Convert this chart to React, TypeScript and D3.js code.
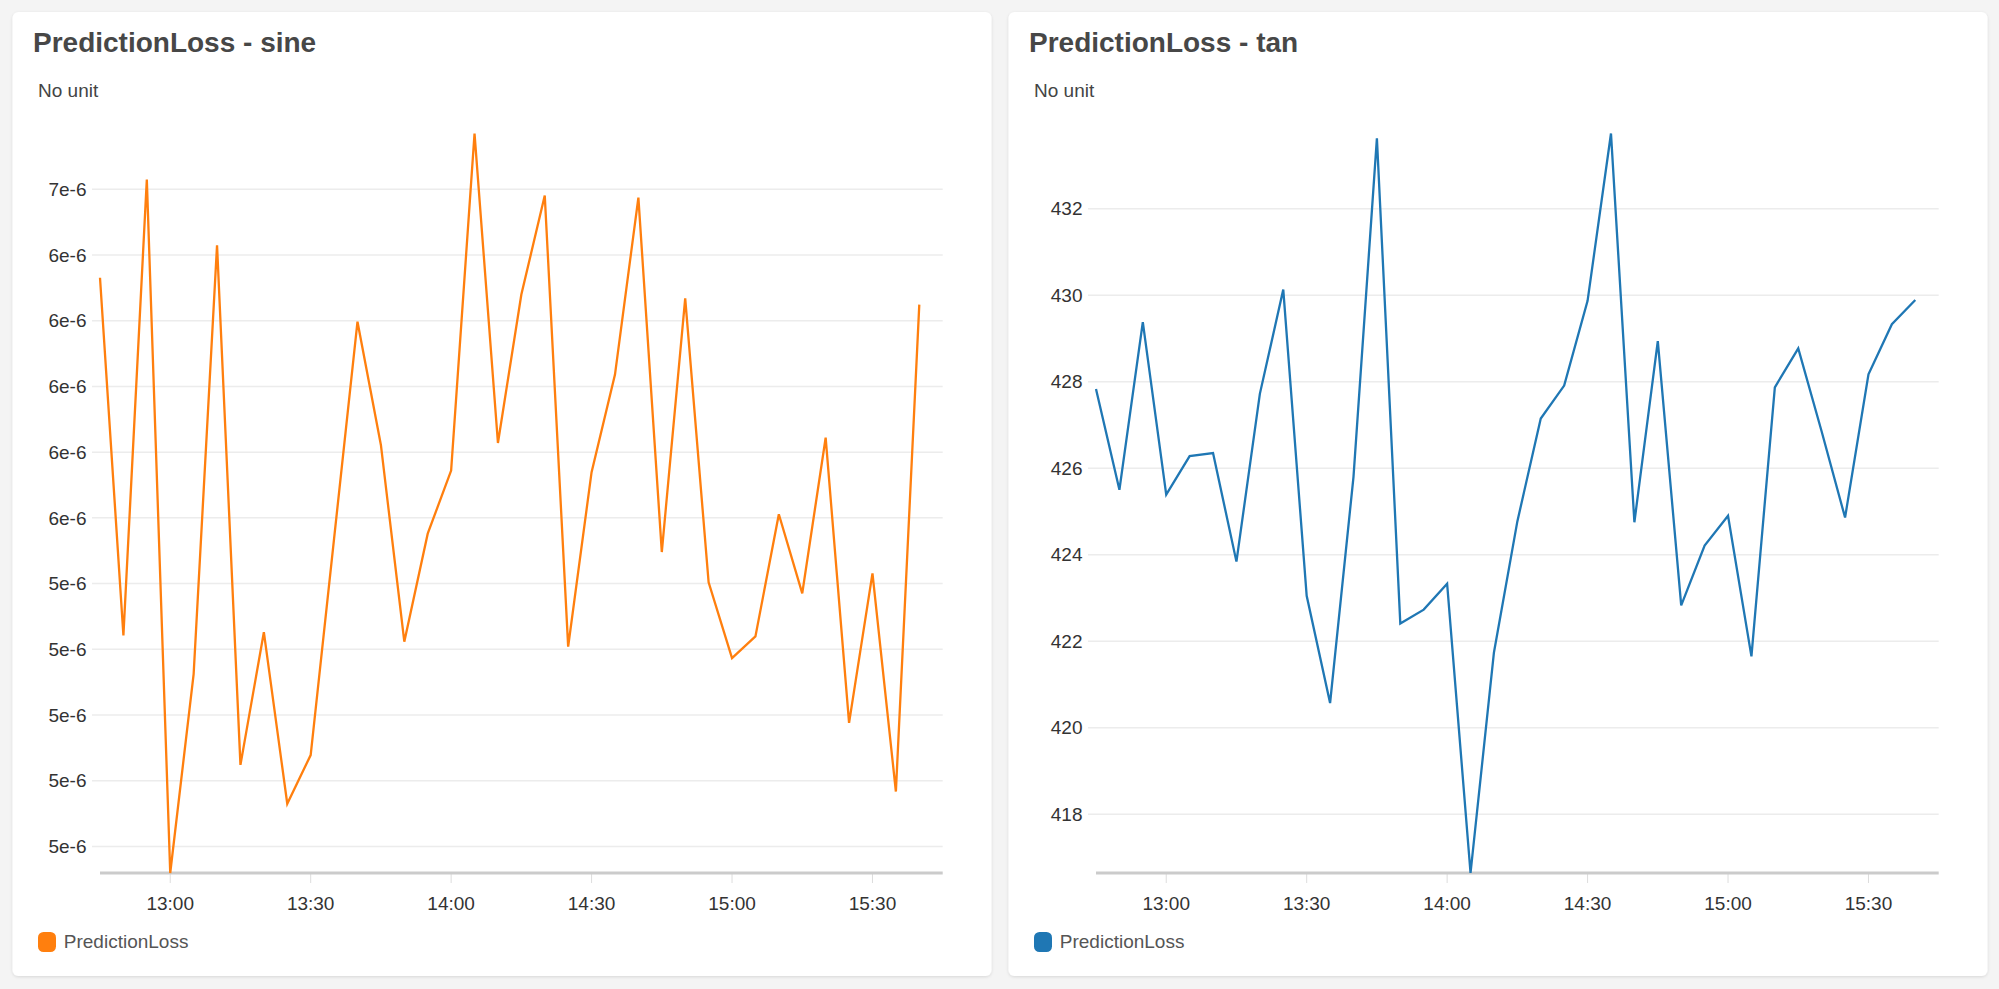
import * as d3 from 'd3';

// Time stamps (5-minute samples) shared by both panels
const times = [
  '12:45', '12:50', '12:55', '13:00', '13:05', '13:10', '13:15', '13:20', '13:25', '13:30',
  '13:35', '13:40', '13:45', '13:50', '13:55', '14:00', '14:05', '14:10', '14:15', '14:20',
  '14:25', '14:30', '14:35', '14:40', '14:45', '14:50', '14:55', '15:00', '15:05', '15:10',
  '15:15', '15:20', '15:25', '15:30', '15:35', '15:40',
];

const sineValues = [
  6.331e-6, 5.242e-6, 6.63e-6, 4.519e-6, 5.124e-6, 6.43e-6, 4.848e-6, 5.252e-6, 4.73e-6, 4.878e-6,
  5.537e-6, 6.197e-6, 5.822e-6, 5.223e-6, 5.552e-6, 5.744e-6, 6.77e-6, 5.828e-6, 6.28e-6, 6.581e-6,
  5.208e-6, 5.739e-6, 6.036e-6, 6.575e-6, 5.496e-6, 6.268e-6, 5.404e-6, 5.173e-6, 5.239e-6, 5.611e-6,
  5.37e-6, 5.844e-6, 4.976e-6, 5.431e-6, 4.767e-6, 6.249e-6,
];

const tanValues = [
  427.83, 425.5, 429.38, 425.39, 426.28, 426.35, 423.84, 427.72, 430.13, 423.05,
  420.57, 425.8, 433.63, 422.41, 422.73, 423.33, 416.64, 421.74, 424.77, 427.15,
  427.91, 429.87, 433.74, 424.75, 428.94, 422.83, 424.21, 424.9, 421.65, 427.87,
  428.77, 426.85, 424.86, 428.17, 429.33, 429.89,
];

const sineTicks = [6.6e-6, 6.4e-6, 6.2e-6, 6.0e-6, 5.8e-6, 5.6e-6, 5.4e-6, 5.2e-6, 5.0e-6, 4.8e-6, 4.6e-6];
const sineTickLabels = ['7e-6', '6e-6', '6e-6', '6e-6', '6e-6', '6e-6', '5e-6', '5e-6', '5e-6', '5e-6', '5e-6'];
const tanTicks = [432, 430, 428, 426, 424, 422, 420, 418];
const tanTickLabels = ['432', '430', '428', '426', '424', '422', '420', '418'];

const xStart = '12:45';
const xEnd = '15:45';

const FONT = '"Liberation Sans", Arial, Helvetica, sans-serif';
const W = 1999;
const H = 989;

const parseT = (s: string) => d3.timeParse('%Y-%m-%d %H:%M')(`2020-01-01 ${s}`) as Date;

type PanelProps = {
  x0: number;
  title: string;
  color: string;
  values: number[];
  ticks: number[];
  tickLabels: string[];
};

const Panel = ({ x0, title, color, values, ticks, tickLabels }: PanelProps) => {
  const cardW = 979;
  const cardTop = 12;
  const cardH = 964;
  const left = 87.5;
  const right = 930.2;
  const top = 133.5;
  const bottom = 873;

  const x = d3.scaleTime().domain([parseT(xStart), parseT(xEnd)]).range([left, right]);
  const ext = d3.extent(values) as [number, number];
  const y = d3.scaleLinear().domain(ext).range([bottom, top]);
  const xTicks = x.ticks(d3.timeMinute.every(30) as any);
  const fmt = d3.timeFormat('%H:%M');

  const data = times.map((t, i) => ({ t: parseT(t), v: values[i] }));
  const line = d3.line<{ t: Date; v: number }>().x(d => x(d.t)).y(d => y(d.v));

  return (
    <g transform={`translate(${x0},0)`}>
      <rect x={0} y={cardTop} width={cardW} height={cardH} rx={6} fill="#fff" filter="url(#shadow)" />
      <text x={20.5} y={52} fontSize={28} fontWeight={700} fill="#474747" fontFamily={FONT}>{title}</text>
      <text x={25.5} y={97} fontSize={19} fill="#444" fontFamily={FONT}>No unit</text>

      {ticks.map((t, i) => (
        <g key={i}>
          <line x1={left - 8} x2={right} y1={y(t)} y2={y(t)} stroke="#ececec" strokeWidth={1.5} />
          <text x={left - 13.5} y={y(t)} dy="0.35em" textAnchor="end" fontSize={19} fill="#333" fontFamily={FONT}>
            {tickLabels[i]}
          </text>
        </g>
      ))}

      {xTicks.map((t, i) => (
        <g key={i}>
          <line x1={x(t)} x2={x(t)} y1={bottom} y2={bottom + 10} stroke="#ddd" strokeWidth={1} />
          <text x={x(t)} y={910} textAnchor="middle" fontSize={19} fill="#333" fontFamily={FONT}>{fmt(t)}</text>
        </g>
      ))}
      <line x1={left} x2={right} y1={bottom} y2={bottom} stroke="#cbcbcb" strokeWidth={3} />

      <path d={line(data) || ''} fill="none" stroke={color} strokeWidth={2.3} strokeLinejoin="miter" />

      <rect x={25.5} y={932} width={18} height={20} rx={5.5} fill={color} />
      <text x={51.3} y={948} fontSize={19} fill="#555" fontFamily={FONT}>PredictionLoss</text>
    </g>
  );
};

export default function App() {
  return (
    <svg width={W} height={H} style={{ position: 'absolute', left: 0, top: 0, display: 'block' }}>
      <defs>
        <filter id="shadow" x="-5%" y="-5%" width="110%" height="110%">
          <feDropShadow dx="0" dy="1" stdDeviation="1.5" floodColor="#000" floodOpacity="0.12" />
        </filter>
      </defs>
      <rect width={W} height={H} fill="#f4f4f4" />
      <Panel x0={12.5} title="PredictionLoss - sine" color="#ff7f0e" values={sineValues} ticks={sineTicks} tickLabels={sineTickLabels} />
      <Panel x0={1008.5} title="PredictionLoss - tan" color="#1f77b4" values={tanValues} ticks={tanTicks} tickLabels={tanTickLabels} />
    </svg>
  );
}
